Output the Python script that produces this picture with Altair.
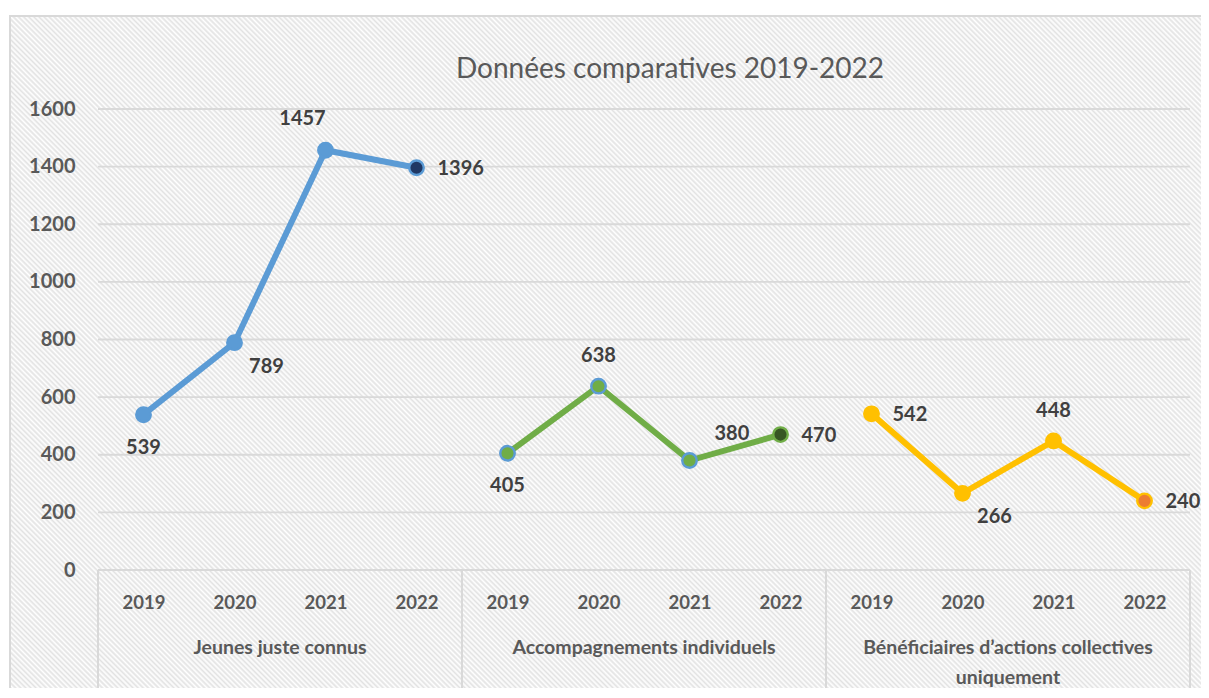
import altair as alt
import pandas as pd

# ---- data ----
group_keys = ["J", "A", "B"]
group_names = [
    "Jeunes juste connus",
    "Accompagnements individuels",
    "Bénéficiaires d’actions collectives\nuniquement",
]
years = ["2019", "2020", "2021", "2022"]
jeunes = [539, 789, 1457, 1396]
accomp = [405, 638, 380, 470]
benef = [542, 266, 448, 240]
label_place_jeunes = ["below", "below-right", "above-left", "right"]
label_place_accomp = ["below", "above", "above-right", "right"]
label_place_benef = ["right", "below-right", "above", "right"]
y_ticks = [0, 200, 400, 600, 800, 1000, 1200, 1400, 1600]
title_text = "Données comparatives 2019-2022"

series = [jeunes, accomp, benef]
places = [label_place_jeunes, label_place_accomp, label_place_benef]

rows = []
for gi, key in enumerate(group_keys):
    for yi, yr in enumerate(years):
        rows.append({
            "idx": gi * len(years) + yi,
            "grp": key,
            "year": yr,
            "value": series[gi][yi],
            "place": places[gi][yi],
            "style": key + ("-last" if yi == len(years) - 1 else ""),
        })
df = pd.DataFrame(rows)

groups_df = pd.DataFrame({
    "name": group_names,
    "center": [gi * len(years) + (len(years) - 1) / 2 for gi in range(len(group_keys))],
})
sep_df = pd.DataFrame({
    "pos": [gi * len(years) - 0.5 for gi in range(len(group_keys) + 1)],
})
grid_df = pd.DataFrame({"v": y_ticks})

FONT = "Lato"
GRID = "#d9d9d9"
AXIS_TXT = "#595959"
LABEL_TXT = "#404040"
W, H = 1092, 461

n = len(df)
x_scale = alt.Scale(domain=[-0.5, n - 0.5], nice=False, zero=False)
y_scale = alt.Scale(domain=[0, 1600], nice=False)

year_js = "[" + ",".join("'%s'" % y for y in years) + "]"

x_axis = alt.Axis(
    values=list(range(n)), labelExpr=year_js + "[datum.value % " + str(len(years)) + "]",
    grid=False, domain=False, ticks=False, tickSize=0, labelPadding=38,
    labelBaseline="alphabetic", labelFont=FONT, labelFontSize=18.5,
    labelFontWeight="bold", labelColor=AXIS_TXT, title=None, labelFlush=False,
    zindex=2,
)
y_axis = alt.Axis(
    values=y_ticks, format="d", grid=False, domain=False,
    ticks=False, tickSize=0, labelPadding=23, labelFont=FONT, labelFontSize=20,
    labelFontWeight="bold", labelColor=AXIS_TXT, title=None, zindex=2,
)


def X(field):
    return alt.X(field, scale=x_scale, axis=x_axis)


def Y(field):
    return alt.Y(field, scale=y_scale, axis=y_axis)


# ---- hatched background (diagonal stripes through a gradient) ----
N = 470
stops = []
for k in range(N):
    stops.append({"offset": k / N, "color": "#ffffff"})
    stops.append({"offset": (k + 0.5) / N, "color": "#e2e2e2"})
stops.append({"offset": 1, "color": "#ffffff"})
hatch = {"gradient": "linear", "x1": 0, "y1": 1, "x2": 1, "y2": 0, "stops": stops}

bg = alt.Chart(pd.DataFrame({"a": [0]})).mark_rect(
    fill=hatch, stroke=GRID, strokeWidth=2
).encode(
    x=alt.value(-88), x2=alt.value(1112), y=alt.value(-93), y2=alt.value(1107)
)

grid = alt.Chart(grid_df).mark_rule(color=GRID, strokeWidth=1.8).encode(
    y=Y("v:Q"), x=alt.value(0), x2=alt.value(W),
)

seps = alt.Chart(sep_df).mark_rule(color=GRID, strokeWidth=2).encode(
    x=X("pos:Q"), y=alt.value(H), y2=alt.value(600),
)

line_colors = ["#5b9bd5", "#70ad47", "#ffc000"]
lines = alt.Chart(df).mark_line(strokeWidth=6).encode(
    x=X("idx:Q"), y=Y("value:Q"),
    color=alt.Color("grp:N", scale=alt.Scale(domain=group_keys, range=line_colors), legend=None),
    detail="grp:N",
)

style_domain = ["J", "J-last", "A", "A-last", "B", "B-last"]
fill_range = ["#5b9bd5", "#203864", "#70ad47", "#375623", "#ffc000", "#ed7d31"]
stroke_range = ["#5b9bd5", "#5b9bd5", "#5b9bd5", "#70ad47", "#ffc000", "#ffc000"]
points = alt.Chart(df).mark_point(
    shape="circle", filled=True, size=210, strokeWidth=2.4, opacity=1
).encode(
    x=X("idx:Q"), y=Y("value:Q"),
    fill=alt.Fill("style:N", scale=alt.Scale(domain=style_domain, range=fill_range), legend=None),
    stroke=alt.Stroke("style:N", scale=alt.Scale(domain=style_domain, range=stroke_range), legend=None),
)

placements = {
    "below": dict(dx=0, dy=33, align="center"),
    "above": dict(dx=0, dy=-30, align="center"),
    "right": dict(dx=21, dy=1, align="left"),
    "below-right": dict(dx=32, dy=24, align="center"),
    "above-left": dict(dx=-23, dy=-31, align="center"),
    "above-right": dict(dx=25, dy=-27, align="left"),
}
label_layers = []
for pname, p in placements.items():
    label_layers.append(
        alt.Chart(df).transform_filter(alt.datum.place == pname).mark_text(
            font=FONT, fontSize=20, fontWeight="bold", color=LABEL_TXT,
            baseline="middle", **p
        ).encode(
            x=X("idx:Q"), y=Y("value:Q"),
            text=alt.Text("value:Q", format="d"),
        )
    )

group_text = alt.Chart(groups_df).mark_text(
    font=FONT, fontSize=19.5, fontWeight="bold", color=AXIS_TXT,
    baseline="alphabetic", align="center", lineBreak="\n", lineHeight=30
).encode(
    x=X("center:Q"), y=alt.value(545), text="name:N",
)

title = alt.Chart(pd.DataFrame({"t": [title_text]})).mark_text(
    font=FONT, fontSize=28, color=AXIS_TXT, align="center", baseline="alphabetic"
).encode(x=alt.value(572), y=alt.value(-31), text="t:N")

chart = alt.layer(bg, grid, seps, lines, points, *label_layers, group_text, title).properties(
    width=W, height=H,
    autosize=alt.AutoSizeParams(type="none"),
    padding={"left": 90, "top": 101, "right": 11, "bottom": 118},
    background="white",
).configure_view(stroke=None)

chart.save("out.html", embed_options={"renderer": "svg", "actions": False})
